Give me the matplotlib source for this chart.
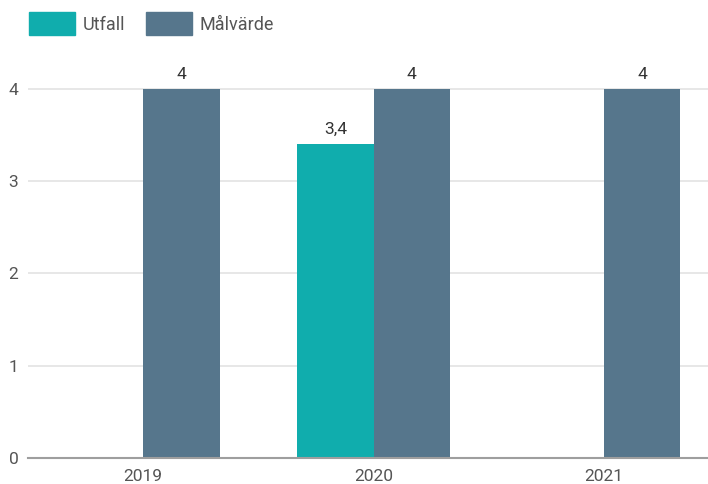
import numpy as np
import matplotlib.pyplot as plt
from matplotlib.patches import Patch

plt.rcParams['font.family'] = ['Roboto', 'DejaVu Sans']

years = ['2019', '2020', '2021']
utfall = [np.nan, 3.4, np.nan]
malvarde = [4, 4, 4]

teal = '#10adad'
slate = '#56768c'

W, H = 708, 484
fig = plt.figure(figsize=(W / 100, H / 100), dpi=100)
ax = fig.add_axes([28 / W, (H - 458) / H, (719 - 28) / W, 406 / H])

x = np.arange(len(years))
bw = 0.332
b1 = ax.bar(x - bw / 2, utfall, bw, color=teal)
b2 = ax.bar(x + bw / 2, malvarde, bw, color=slate)

def fmt(v):
    return ('%g' % v).replace('.', ',')

for bars, vals in [(b1, utfall), (b2, malvarde)]:
    for b, v in zip(bars, vals):
        if np.isnan(v):
            continue
        ax.text(b.get_x() + b.get_width() / 2, v + 0.08, fmt(v),
                ha='center', va='bottom', fontsize=12.5, color='#333333')

ax.set_xlim(-0.5, 2.5)
ax.set_ylim(0, 4.4)
ax.set_yticks([0, 1, 2, 3, 4])
ax.set_xticks(x)
ax.set_xticklabels(years)
ax.tick_params(axis='y', length=0, pad=7, labelsize=12.5, labelcolor='#555555')
ax.tick_params(axis='x', length=0, pad=8, labelsize=12.5, labelcolor='#555555')
ax.grid(axis='y', color='#e3e3e3', linewidth=1.2)
ax.set_axisbelow(True)
for s in ['top', 'right', 'left']:
    ax.spines[s].set_visible(False)
ax.spines['bottom'].set_color('#9e9e9e')
ax.spines['bottom'].set_linewidth(1.5)

handles = [Patch(color=teal, label='Utfall'), Patch(color=slate, label='Målvärde')]
fig.legend(handles=handles, loc='upper left', bbox_to_anchor=(29 / W, 1 - 12 / H),
           ncol=2, frameon=False, fontsize=13, handlelength=2.55, handleheight=1.6,
           handletextpad=0.45, columnspacing=1.1, borderpad=0, borderaxespad=0,
           labelcolor='#555555')

fig.savefig('out.png', dpi=100)
